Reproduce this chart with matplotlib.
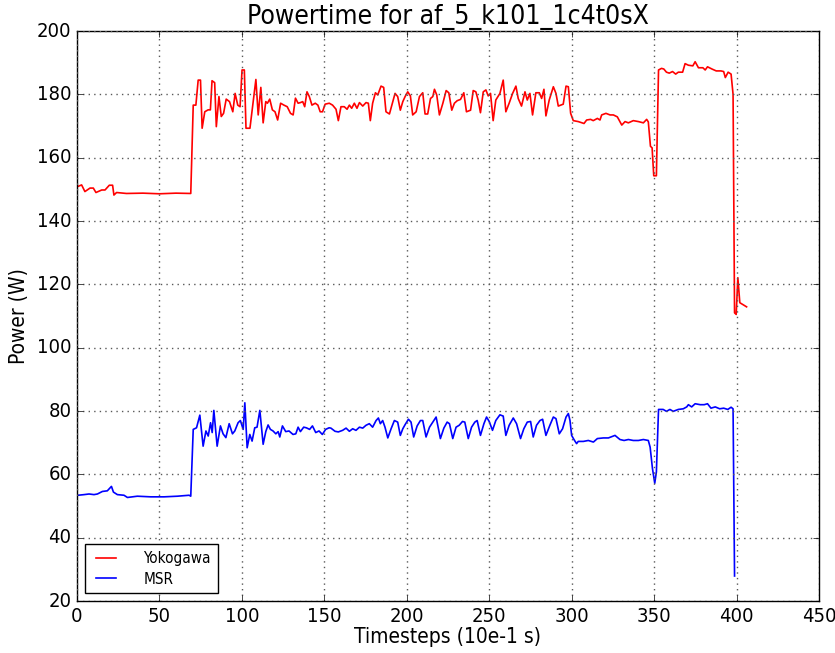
import matplotlib
matplotlib.use("Agg")
import matplotlib.pyplot as plt

# ---- data ----
yoko_t = [0, 2.8, 4.8, 7.9, 9.9, 11.5, 15, 17, 19.6, 21.6, 22.4, 24, 30, 40, 50, 60, 69,
          70.5, 72.1, 73.5, 74.9, 75.9, 77.5, 79.5, 80.9, 81.9, 83.5, 84.5, 86.1, 87.5, 88.9,
          90.5, 92.5, 94.5, 95.9, 97.5, 98.9, 100.1, 101.5, 102.5, 104.9, 106.5, 108.5, 109.9,
          111.5, 112.9, 114.5, 115.5, 116.9, 118.5, 120.1, 121.7, 123.5, 125.5, 127.5, 129.5,
          131.1, 132.5, 134.1, 135.5, 136.9, 138.1, 139.5, 140.9, 142.5, 144.5, 146.1, 147.5,
          148.9, 150.5, 153, 155, 157.1, 158.5, 160.1, 162.1, 163.8, 165.2, 166.6, 168.2,
          169.8, 171.3, 173.3, 175.3, 176.7, 177.9, 179.3, 181, 182.4, 184.4, 186, 187.4,
          189.5, 191.5, 192.9, 194.5, 196.1, 197.6, 199, 200.6, 202.2, 203.6, 205.7, 207.7,
          209.7, 211.1, 212.7, 214.4, 215.8, 216.8, 218.2, 219.8, 221.9, 223.9, 225.5, 227.3,
          228.9, 230.6, 232.6, 234.6, 236.2, 238.7, 240.3, 241.9, 243.3, 244.7, 246.4, 248,
          249.4, 250.8, 252.4, 254, 256.5, 258.5, 260.1, 262.1, 264.2, 266.2, 267.6, 269.6,
          271.7, 273.1, 274.7, 276.3, 278.3, 280.4, 281.8, 283.2, 284.4, 286.4, 288.9, 290.5,
          291.9, 294.9, 296.6, 298, 299.4, 301, 304, 307.5, 309.1, 311.5, 313.1, 315.6, 317.2,
          318.2, 320.8, 323.3, 325.3, 327.7, 330.4, 332.4, 334.4, 337.4, 340.5, 343.5, 345.5,
          346.5, 347.8, 348.8, 349.8, 351.4, 352.7, 354.5, 355.9, 357.5, 359.2, 361.2, 363.1,
          364.7, 367.3, 368.8, 370.8, 373.5, 374.9, 376.9, 379.6, 381, 382.4, 385.1, 387.7,
          390.6, 392.2, 393.2, 394.9, 396.7, 397.9, 398.8, 399.8, 400.8, 402, 404.5, 406.1]
yoko_w = [150.8, 151.4, 149.3, 150.4, 150.4, 149.0, 149.8, 149.8, 151.3, 151.3, 148.2, 149.0,
          148.7, 148.8, 148.6, 148.8, 148.7,
          176.6, 176.6, 184.5, 184.5, 169.3, 174.5, 175.1, 175.1, 184.3, 183.7, 169.8, 179.3,
          173.0, 174.0, 178.5, 177.7, 174.5, 180.3, 176.6, 176.1, 187.7, 187.7, 169.3, 169.3,
          176.1, 184.7, 173.5, 182.2, 171.0, 177.7, 177.2, 178.5, 175.1, 174.5, 171.9, 177.2,
          176.6, 176.1, 174.0, 173.5, 178.8, 177.2, 177.4, 177.7, 176.1, 180.8, 179.3, 176.6,
          177.2, 176.6, 174.5, 174.5, 176.9, 177.2, 176.6, 175.3, 171.7, 176.1, 176.1, 175.3,
          176.6, 175.6, 177.2, 175.6, 177.4, 176.3, 177.4, 177.2, 171.7, 177.2, 180.5, 179.8,
          182.6, 182.2, 174.5, 173.8, 177.7, 180.3, 179.3, 175.0, 177.7, 179.3, 180.8, 179.5,
          173.5, 174.5, 179.3, 180.5, 173.8, 173.8, 178.7, 179.3, 181.6, 179.8, 173.5, 177.2,
          181.2, 180.5, 175.0, 177.2, 178.0, 178.4, 180.5, 174.5, 175.0, 181.2, 180.8, 178.2,
          174.2, 180.8, 181.4, 179.5, 180.3, 171.7, 178.2, 180.3, 184.5, 174.5, 177.2, 180.3,
          182.6, 178.7, 176.3, 180.8, 178.2, 180.3, 173.5, 180.5, 180.5, 178.7, 181.6, 173.2,
          178.2, 182.4, 180.3, 176.3, 176.9, 182.6, 182.4, 174.0, 171.7, 171.4, 170.8, 171.9,
          172.1, 171.7, 172.4, 171.9, 173.5, 174.0, 173.5, 173.5, 172.9, 170.3, 171.4, 171.0,
          171.7, 171.4, 171.0, 172.1, 171.3, 163.6, 163.1, 154.3, 154.3, 187.7, 188.2, 188.0,
          187.0, 186.7, 187.2, 186.4, 187.0, 187.0, 189.7, 189.2, 189.0, 190.3, 188.4, 188.4,
          187.7, 188.7, 188.0, 187.4, 187.4, 187.2, 185.3, 187.0, 186.4, 180.0, 111.0, 110.5,
          122.1, 114.2, 113.4, 112.9]

msr_t = [0.6, 4.3, 7.3, 10.3, 12.4, 15.4, 18.4, 20.9, 22.1, 24.5, 28.5, 30.6, 36.6, 44.7,
         52.8, 60.9, 68, 69,
         70.5, 72.5, 74.5, 76.5, 78.2, 79.6, 81, 82, 83, 85, 87, 88.6, 90.3, 92.3, 94.3, 95.7,
         97.7, 99.1, 100.8, 101.8, 103.2, 104.8, 106.2, 107.8, 109.2, 110.9, 112.9, 114.5,
         115.9, 117.3, 118.9, 120.6, 122, 123, 124.6, 126.6, 128.6, 131, 132.7, 134.1, 135.5,
         137.5, 139.1, 141.1, 142.8, 144.8, 146.8, 148.8, 150.8, 152.9, 154, 156.5, 158.5,
         161.1, 163.2, 165.2, 167.2, 169.2, 171.3, 173.3, 175.3, 177.3, 179.3, 181.4, 182.8,
         184, 185.4, 186.8, 188.5, 190.5, 192.5, 194.5, 196.1, 197.6, 199, 201, 202.6, 204.2,
         206.3, 208.3, 209.7, 211.7, 213.8, 215.8, 217.8, 220.4, 222.5, 224.5, 225.9, 227.9,
         229.9, 231.8, 233.8, 235.2, 237.3, 239.3, 241.3, 242.7, 244.7, 246.8, 248.4, 250,
         252, 254, 256.5, 258.5, 260.1, 262.1, 264.6, 266.6, 269, 271, 273.1, 275.1, 276.7,
         278.7, 280.8, 282.4, 284.4, 286.8, 288.9, 290.5, 292.5, 294.5, 296.6, 298, 299, 300,
         301.4, 303, 304, 307.1, 310.1, 313.2, 315.6, 319.2, 322.3, 326.3, 329.3, 331.8,
         334.4, 337.4, 340.5, 343.5, 346.5, 347.6, 349, 350.4, 351.4, 352.7, 355.5, 357.5,
         359.6, 361.6, 364.7, 367.7, 369.8, 370.8, 372.8, 374.9, 378, 380.4, 382.4, 384.5,
         387.1, 389.8, 392.2, 394.7, 396.7, 397.9, 398.8]
msr_w = [53.4, 53.6, 53.8, 53.6, 53.8, 54.6, 54.8, 56.2, 54.4, 53.6, 53.4, 52.7, 53.1, 52.9,
         52.9, 53.1, 53.4, 53.1,
         74.2, 74.7, 78.7, 68.9, 73.7, 72.1, 76.3, 73.2, 80.2, 68.9, 75.3, 72.8, 71.6, 76.0,
         72.8, 73.7, 76.3, 77.0, 74.2, 82.6, 68.4, 72.6, 70.5, 74.7, 74.9, 80.2, 69.5, 73.5,
         75.6, 74.2, 73.7, 72.8, 73.5, 71.8, 75.3, 73.5, 73.7, 72.6, 72.8, 74.9, 73.5, 74.9,
         74.7, 74.2, 75.3, 73.2, 73.7, 72.6, 74.2, 74.7, 74.6, 73.6, 73.4, 73.9, 74.6, 73.6,
         74.4, 73.9, 74.9, 74.6, 75.5, 76.0, 74.9, 77.0, 77.8, 76.0, 77.0, 74.9, 71.5, 74.4,
         77.0, 76.5, 72.3, 74.4, 75.7, 77.4, 76.5, 71.8, 75.3, 77.0, 77.0, 71.8, 74.9, 76.5,
         78.1, 71.3, 74.6, 76.5, 76.0, 71.3, 74.9, 75.5, 76.7, 76.5, 71.3, 74.9, 76.5, 77.0,
         72.3, 76.0, 78.1, 76.7, 73.9, 77.0, 78.8, 78.4, 72.3, 75.5, 77.8, 76.0, 71.3, 74.4,
         76.5, 76.7, 71.8, 75.5, 77.0, 77.4, 72.3, 75.5, 78.1, 77.6, 72.8, 74.4, 78.1, 79.2,
         77.0, 72.3, 71.0, 69.7, 70.4, 70.4, 70.7, 70.2, 71.3, 71.5, 71.5, 72.3, 71.0, 70.7,
         71.0, 70.7, 70.7, 71.0, 70.7, 68.6, 61.9, 57.2, 60.8, 80.5, 80.5, 79.9, 80.5, 79.9,
         80.5, 80.7, 81.3, 82.0, 81.3, 82.3, 82.0, 82.0, 82.3, 80.9, 81.3, 80.7, 80.9, 80.5,
         81.2, 80.7, 27.9]

title = "Powertime for af_5_k101_1c4t0sX"
xlabel = "Timesteps (10e-1 s)"
ylabel = "Power (W)"

# ---- figure ----
plt.style.use("classic")
plt.rcParams["font.family"] = ["DejaVu Sans"]
plt.rcParams["font.stretch"] = "condensed"

fig = plt.figure(figsize=(8.35, 6.53), dpi=100, facecolor="white")
ax = fig.add_axes([0.0922, 0.0796, 0.8886, 0.8729])

ax.plot(yoko_t, yoko_w, color="red", lw=1.2, label="Yokogawa")
ax.plot(msr_t, msr_w, color="blue", lw=1.2, label="MSR")

ax.set_xlim(0, 450)
ax.set_ylim(20, 200)
ax.set_xticks(range(0, 451, 50))
ax.set_yticks(range(20, 201, 20))
ax.grid(True, linestyle=(0, (1, 3)), color="0.35", linewidth=1.0)
ax.tick_params(labelsize=14.5)
ax.set_title(title, fontsize=19, pad=5)
ax.set_xlabel(xlabel, fontsize=15, labelpad=1)
ax.set_ylabel(ylabel, fontsize=15, labelpad=6)
ax.legend(loc="lower left", fontsize=11, handlelength=1.9, handletextpad=1.5,
          borderpad=0.45, labelspacing=0.35, frameon=True, fancybox=False)

fig.savefig("out.png", dpi=100, facecolor="white")
